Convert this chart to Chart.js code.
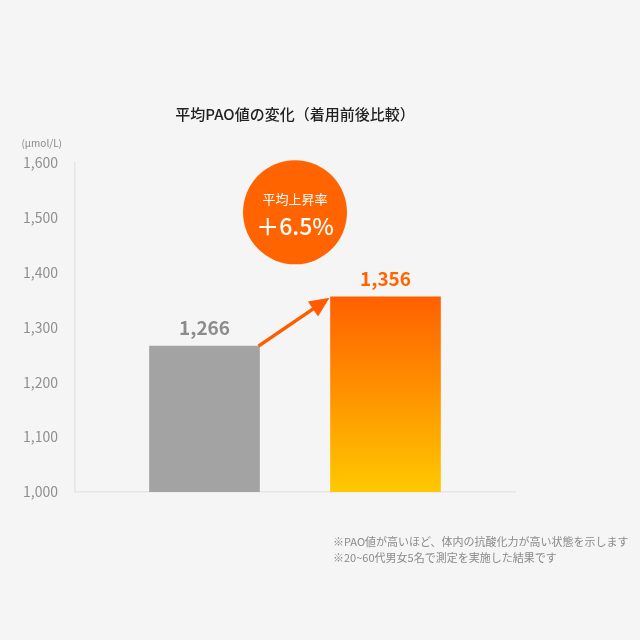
<!DOCTYPE html>
<html lang="ja">
<head>
<meta charset="utf-8">
<title>平均PAO値の変化</title>
<script src="https://cdn.jsdelivr.net/npm/chart.js@4.4.1/dist/chart.umd.min.js"></script>
<style>
    html, body { margin: 0; padding: 0; background: #f5f5f5; }
    #chart { display: block; }
</style>
</head>
<body>
<canvas id="chart" width="640" height="640"></canvas>
<script>
const FONT = "'Noto Sans CJK JP', 'Noto Sans', sans-serif";

// data
const categories = ["着用前", "着用後"];
const values = [1266, 1356];
const barColors = ["#a3a3a3", null]; // second bar uses a gradient
const labelColors = ["#8c8c8c", "#ff6400"];
const yMin = 1000;
const yMax = 1600;
const yStep = 100;

const titleText = "平均PAO値の変化（着用前後比較）";
const unitText = "(μmol/L)";
const badgeLines = ["平均上昇率", "＋6.5%"];
const badgeValue = 1510; // vertical position of the badge centre, in axis units
const notes = [
    "※PAO値が高いほど、体内の抗酸化力が高い状態を示します",
    "※20~60代男女5名で測定を実施した結果です",
];

const fmt = (v) => Number(v).toLocaleString("en-US");

function afterBarGradient(ctx) {
    const chart = ctx.chart;
    const area = chart.chartArea;
    if (!area) {
        return "#ff8c00";
    }
    const top = chart.scales.y.getPixelForValue(values[1]);
    const g = chart.ctx.createLinearGradient(0, top, 0, area.bottom);
    g.addColorStop(0, "#ff6000");
    g.addColorStop(0.45, "#ff8e00");
    g.addColorStop(1, "#ffc800");
    return g;
}

const overlayPlugin = {
    id: "overlay",
    afterDatasetsDraw(chart) {
        const { ctx, chartArea, scales } = chart;
        const bars = chart.getDatasetMeta(0).data;
        if (bars.length < 2) {
            return;
        }
        const [b1, b2] = bars;

        // value labels
        ctx.save();
        ctx.font = `bold 19px ${FONT}`;
        ctx.textAlign = "center";
        ctx.textBaseline = "bottom";
        bars.forEach((b, i) => {
            ctx.fillStyle = labelColors[i];
            ctx.fillText(fmt(values[i]), b.x, b.y - 9);
        });
        ctx.restore();

        // arrow from bar 1 to bar 2
        const x0 = b1.x + b1.width / 2 - 1;
        const y0 = b1.y;
        const x1 = b2.x - b2.width / 2 - 1;
        const y1 = b2.y + 1;
        const ang = Math.atan2(y1 - y0, x1 - x0);
        const headLen = 20;
        const headHalf = 9;
        const bx = x1 - headLen * Math.cos(ang);
        const by = y1 - headLen * Math.sin(ang);
        ctx.save();
        ctx.strokeStyle = "#ff5c00";
        ctx.fillStyle = "#ff5c00";
        ctx.lineWidth = 3.5;
        ctx.beginPath();
        ctx.moveTo(x0, y0);
        ctx.lineTo(bx + 2 * Math.cos(ang), by + 2 * Math.sin(ang));
        ctx.stroke();
        ctx.beginPath();
        ctx.moveTo(x1, y1);
        ctx.lineTo(bx + headHalf * Math.sin(ang), by - headHalf * Math.cos(ang));
        ctx.lineTo(bx - headHalf * Math.sin(ang), by + headHalf * Math.cos(ang));
        ctx.closePath();
        ctx.fill();
        ctx.restore();

        // badge between the bars
        const cx = (b1.x + b2.x) / 2;
        const cy = scales.y.getPixelForValue(badgeValue);
        ctx.save();
        ctx.fillStyle = "#ff6400";
        ctx.beginPath();
        ctx.arc(cx, cy, 52, 0, Math.PI * 2);
        ctx.fill();
        ctx.fillStyle = "#ffffff";
        ctx.textAlign = "center";
        ctx.textBaseline = "middle";
        ctx.font = `13px ${FONT}`;
        ctx.fillText(badgeLines[0], cx, cy - 13);
        ctx.font = `500 23px ${FONT}`;
        ctx.fillText(badgeLines[1], cx, cy + 14);
        ctx.restore();

        // unit
        ctx.save();
        ctx.fillStyle = "#8a8a8a";
        ctx.font = `10px ${FONT}`;
        ctx.textAlign = "right";
        ctx.textBaseline = "middle";
        ctx.fillText(unitText, chartArea.left - 13, chartArea.top - 20);
        ctx.restore();

        // notes
        ctx.save();
        ctx.fillStyle = "#8a8a8a";
        ctx.font = `11px ${FONT}`;
        ctx.textAlign = "left";
        ctx.textBaseline = "middle";
        notes.forEach((t, i) => {
            ctx.fillText(t, 333, 542 + i * 15.5);
        });
        ctx.restore();
    },
};

new Chart(document.getElementById("chart"), {
    type: "bar",
    data: {
        datasets: [
            {
                label: "平均PAO値",
                data: values.map((v, i) => ({ x: i, y: v, name: categories[i] })),
                backgroundColor: (ctx) =>
                    ctx.dataIndex === 1 ? afterBarGradient(ctx) : barColors[ctx.dataIndex],
                barThickness: 110,
                borderWidth: 0,
            },
        ],
    },
    options: {
        responsive: false,
        animation: false,
        layout: { padding: { left: 0, right: 125, top: 0, bottom: 148 } },
        scales: {
            x: {
                type: "linear",
                min: -0.7155,
                max: 1.7155,
                offset: false,
                grid: { display: false, drawTicks: false, offset: false },
                ticks: { display: false },
                border: { display: true, color: "#e6e6e6", width: 1.5 },
                afterFit: (s) => {
                    s.height = 0;
                },
            },
            y: {
                min: yMin,
                max: yMax,
                grid: { display: false, drawTicks: false },
                border: { display: true, color: "#e6e6e6", width: 1.5 },
                ticks: {
                    stepSize: yStep,
                    padding: 17,
                    color: "#8f8f8f",
                    font: { family: FONT, size: 14 },
                    callback: (v) => fmt(v),
                },
                afterFit: (s) => {
                    s.width = 75;
                },
            },
        },
        plugins: {
            legend: { display: false },
            tooltip: { enabled: false },
            title: {
                display: true,
                text: titleText,
                fullSize: false,
                color: "#222222",
                font: { family: FONT, size: 15, weight: "500", lineHeight: 1.2 },
                padding: { top: 105, bottom: 40 },
            },
        },
    },
    plugins: [overlayPlugin],
});
</script>
</body>
</html>
